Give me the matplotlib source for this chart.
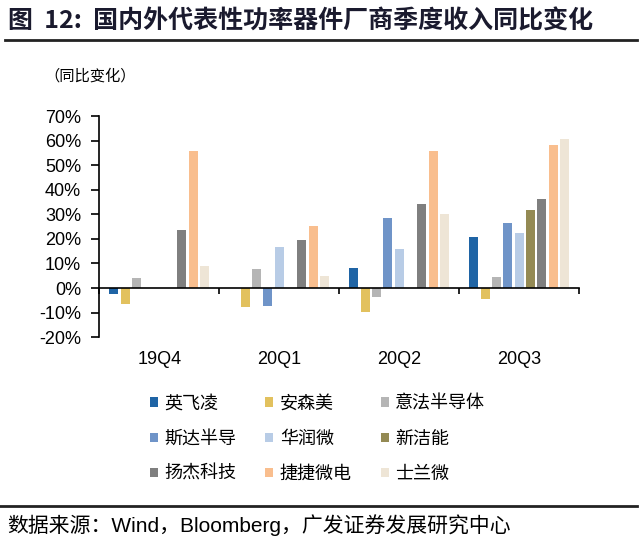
import numpy as np
import matplotlib
matplotlib.use("Agg")
import matplotlib.pyplot as plt
from matplotlib.lines import Line2D
from matplotlib.patches import Patch

plt.rcParams["font.family"] = ["Liberation Sans", "Noto Sans CJK SC", "DejaVu Sans"]

quarters = ["19Q4", "20Q1", "20Q2", "20Q3"]
companies = ["英飞凌", "安森美", "意法半导体", "斯达半导", "华润微",
             "新洁能", "扬杰科技", "捷捷微电", "士兰微"]
nan = np.nan
yoy = {
    "英飞凌":   [-2.4, nan, 8.0, 20.8],
    "安森美":   [-6.5, -7.6, -9.6, -4.6],
    "意法半导体": [4.0, 7.6, -3.8, 4.5],
    "斯达半导":  [nan, -7.2, 28.5, 26.6],
    "华润微":   [nan, 16.6, 15.7, 22.4],
    "新洁能":   [nan, nan, nan, 31.7],
    "扬杰科技":  [23.6, 19.7, 34.3, 36.2],
    "捷捷微电":  [55.6, 25.2, 55.6, 58.3],
    "士兰微":   [9.0, 4.7, 30.0, 60.5],
}
colors = ["#1F64A5", "#E2C15E", "#B5B5B5", "#6F94C8", "#B8CCE6",
          "#948A54", "#7F7F7F", "#F9BE8E", "#EEE5D6"]

fig = plt.figure(figsize=(6.4, 5.5), dpi=100)
ax = fig.add_axes([0.155, 0.387, 0.75, 0.402])

n = len(companies)
slot = 0.85 / n
x = np.arange(len(quarters)) + 0.5
for i, name in enumerate(companies):
    vals = np.array(yoy[name]) / 100
    ax.bar(x - 0.425 + slot * (i + 0.5), vals, width=slot * 0.8,
           color=colors[i], linewidth=0)

ax.set_xlim(0, len(quarters))
ax.set_ylim(-0.2, 0.7)
yt = np.arange(-0.2, 0.71, 0.1)
ax.set_yticks(yt)
ax.set_yticklabels([f"{int(round(v * 100))}%" for v in yt], fontsize=13)
ax.spines["top"].set_visible(False)
ax.spines["right"].set_visible(False)
ax.spines["bottom"].set_position(("data", 0))
ax.spines["left"].set_linewidth(1.2)
ax.spines["bottom"].set_linewidth(1.2)
ax.set_xticks(np.arange(len(quarters) + 1))
ax.set_xticklabels([])
ax.tick_params(axis="x", direction="out", length=4, width=1.2)
ax.tick_params(axis="y", direction="out", length=6, width=1.2, pad=7)
for xi, q in zip(x, quarters):
    ax.text(xi, -0.1, q, transform=ax.get_xaxis_transform(),
            ha="center", va="center", fontsize=13)

# legend, row-major order
handles = [Patch(facecolor=c, edgecolor="none") for c in colors]
order = [0, 3, 6, 1, 4, 7, 2, 5, 8]
fig.legend([handles[k] for k in order], [companies[k] for k in order],
           ncol=3, loc="center left", bbox_to_anchor=(0.209, 0.202),
           frameon=False, handlelength=0.45, handleheight=0.45,
           handletextpad=0.35, columnspacing=1.6, labelspacing=0.95,
           prop={"family": ["Noto Sans CJK SC"], "size": 13})

fig.text(0.012, 0.962, "图  12:  国内外代表性功率器件厂商季度收入同比变化",
         fontsize=18, fontweight="bold", color="#1a1a2e", va="center",
         family=["Noto Sans CJK SC"])
fig.add_artist(Line2D([0.008, 0.995], [0.928, 0.928], color="#222222", lw=2))
fig.text(0.07, 0.862, "（同比变化）", fontsize=11, va="center",
         family=["Noto Sans CJK SC"])
fig.add_artist(Line2D([0.0, 0.995], [0.08, 0.08], color="#222222", lw=2))
fig.text(0.012, 0.045, "数据来源：Wind，Bloomberg，广发证券发展研究中心",
         fontsize=15, va="center", family=["Liberation Sans", "Noto Sans CJK SC"])

fig.savefig("out.png", dpi=100)
